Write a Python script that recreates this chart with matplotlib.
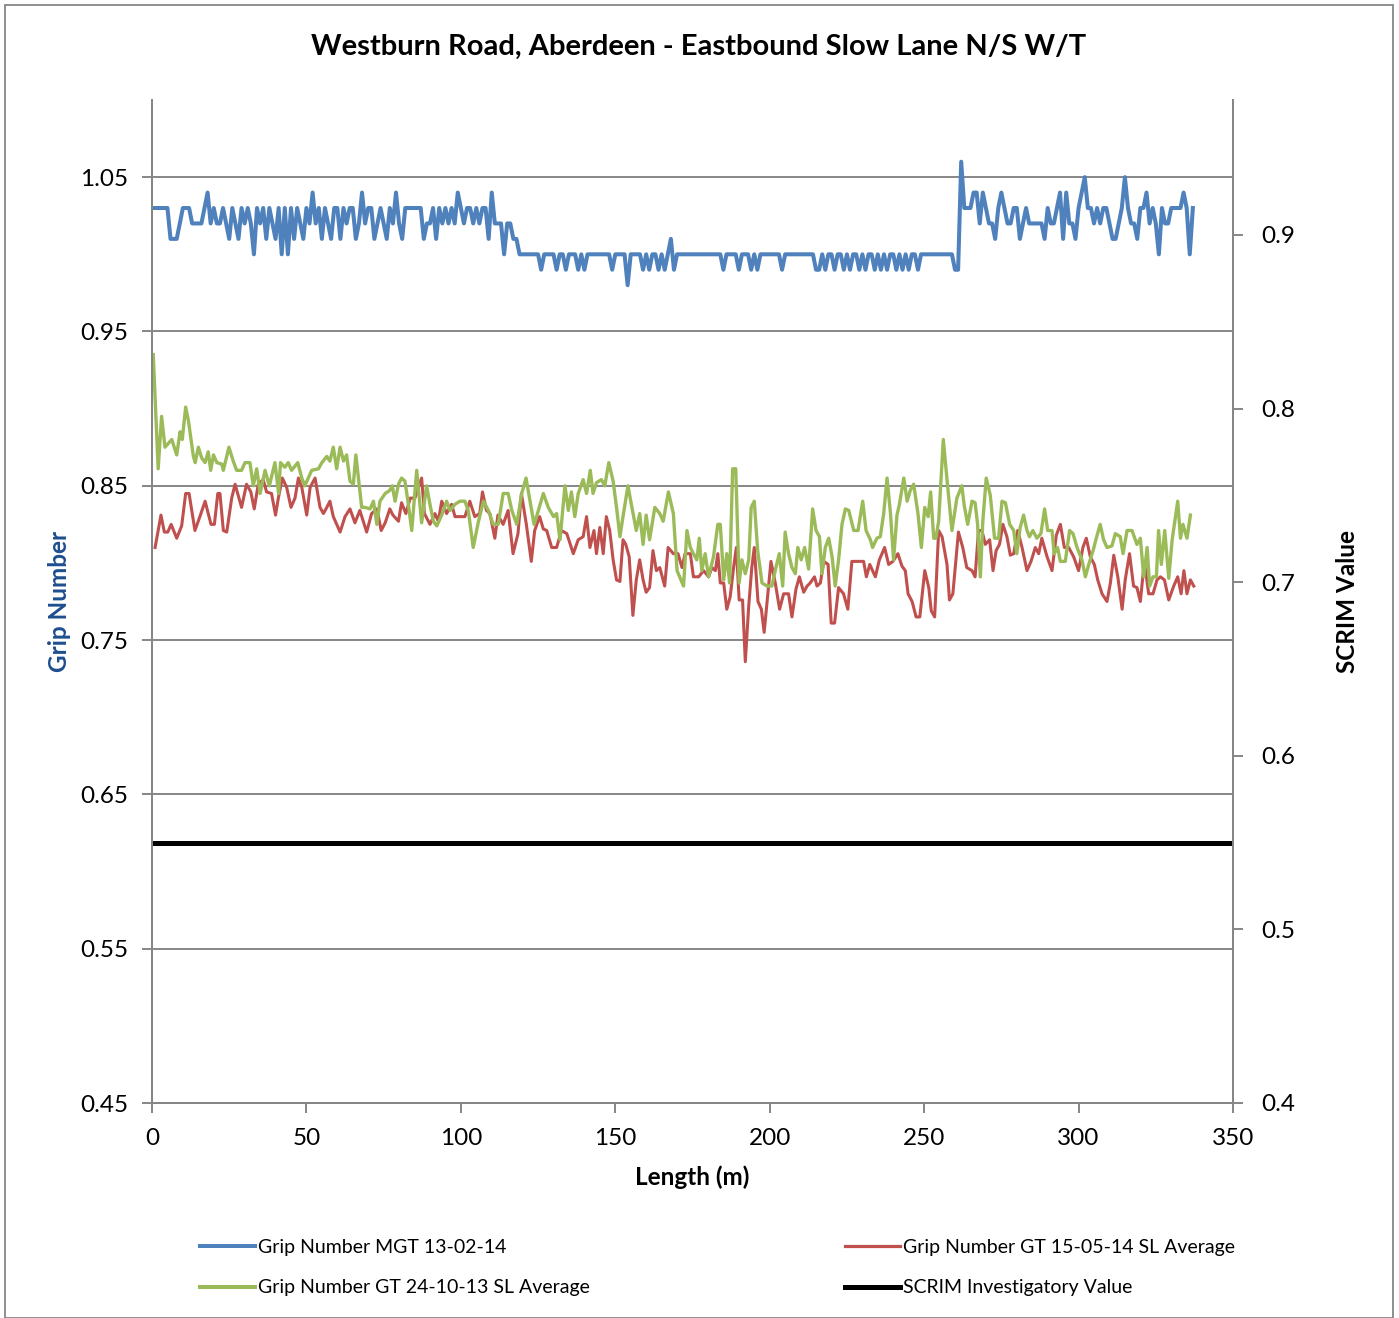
import matplotlib
matplotlib.use("Agg")
import matplotlib.pyplot as plt
from matplotlib.lines import Line2D
from matplotlib.patches import Rectangle

plt.rcParams['font.family'] = ['Lato', 'DejaVu Sans']

# ---------------- data ----------------
# Blue: Grip Number MGT 13-02-14, one value per metre (0..337)
mgt_values = [
    1.03, 1.03, 1.03, 1.03, 1.03, 1.03, 1.01, 1.01, 1.01, 1.02,
    1.03, 1.03, 1.03, 1.02, 1.02, 1.02, 1.02, 1.03, 1.04, 1.02,
    1.03, 1.02, 1.02, 1.03, 1.02, 1.01, 1.03, 1.02, 1.01, 1.03,
    1.02, 1.03, 1.02, 1.00, 1.03, 1.02, 1.03, 1.01, 1.03, 1.02,
    1.01, 1.03, 1.00, 1.03, 1.00, 1.03, 1.01, 1.03, 1.02, 1.01,
    1.03, 1.02, 1.04, 1.02, 1.03, 1.01, 1.03, 1.02, 1.01, 1.03,
    1.03, 1.01, 1.03, 1.02, 1.03, 1.03, 1.01, 1.02, 1.04, 1.02,
    1.03, 1.03, 1.01, 1.02, 1.03, 1.02, 1.01, 1.03, 1.02, 1.04,
    1.02, 1.01, 1.03, 1.03, 1.03, 1.03, 1.03, 1.03, 1.01, 1.02,
    1.02, 1.03, 1.01, 1.03, 1.02, 1.03, 1.02, 1.03, 1.02, 1.04,
    1.03, 1.02, 1.03, 1.03, 1.02, 1.03, 1.02, 1.03, 1.03, 1.01,
    1.04, 1.02, 1.02, 1.02, 1.00, 1.02, 1.02, 1.01, 1.01, 1.00,
    1.00, 1.00, 1.00, 1.00, 1.00, 1.00, 0.99, 1.00, 1.00, 1.00,
    1.00, 0.99, 1.00, 1.00, 0.99, 1.00, 1.00, 1.00, 0.99, 1.00,
    0.99, 1.00, 1.00, 1.00, 1.00, 1.00, 1.00, 1.00, 1.00, 0.99,
    1.00, 1.00, 1.00, 1.00, 0.98, 1.00, 1.00, 1.00, 1.00, 0.99,
    1.00, 0.99, 1.00, 1.00, 0.99, 1.00, 0.99, 1.00, 1.01, 0.99,
    1.00, 1.00, 1.00, 1.00, 1.00, 1.00, 1.00, 1.00, 1.00, 1.00,
    1.00, 1.00, 1.00, 1.00, 1.00, 0.99, 1.00, 1.00, 1.00, 1.00,
    0.99, 1.00, 1.00, 1.00, 0.99, 1.00, 0.99, 1.00, 1.00, 1.00,
    1.00, 1.00, 1.00, 1.00, 0.99, 1.00, 1.00, 1.00, 1.00, 1.00,
    1.00, 1.00, 1.00, 1.00, 1.00, 0.99, 0.99, 1.00, 0.99, 1.00,
    1.00, 0.99, 1.00, 1.00, 0.99, 1.00, 0.99, 1.00, 1.00, 0.99,
    1.00, 0.99, 1.00, 1.00, 0.99, 1.00, 0.99, 1.00, 0.99, 1.00,
    1.00, 0.99, 1.00, 0.99, 1.00, 0.99, 1.00, 1.00, 0.99, 1.00,
    1.00, 1.00, 1.00, 1.00, 1.00, 1.00, 1.00, 1.00, 1.00, 1.00,
    0.99, 0.99, 1.06, 1.03, 1.03, 1.03, 1.04, 1.04, 1.02, 1.04,
    1.03, 1.02, 1.02, 1.01, 1.03, 1.04, 1.03, 1.02, 1.02, 1.03,
    1.03, 1.01, 1.02, 1.03, 1.02, 1.02, 1.02, 1.02, 1.02, 1.01,
    1.03, 1.02, 1.02, 1.03, 1.04, 1.01, 1.04, 1.02, 1.02, 1.01,
    1.03, 1.04, 1.05, 1.03, 1.03, 1.02, 1.03, 1.02, 1.03, 1.03,
    1.02, 1.01, 1.01, 1.02, 1.03, 1.05, 1.03, 1.02, 1.02, 1.01,
    1.03, 1.03, 1.04, 1.02, 1.03, 1.02, 1.00, 1.03, 1.02, 1.02,
    1.03, 1.03, 1.03, 1.03, 1.04, 1.03, 1.00, 1.03,
]
mgt_length = list(range(len(mgt_values)))

# Red: Grip Number GT 15-05-14 SL Average
gt0514_length = [
    1.0, 2.9, 4.0, 5.1, 6.2, 8.0, 9.6, 10.9, 12.0, 13.9, 15.5, 17.2, 19.1, 20.2,
    21.3, 22.0, 23.1, 24.2, 25.8, 26.9, 29.0, 30.6, 32.0, 33.1, 34.4, 36.0, 37.1,
    38.7, 40.0, 40.9, 42.2, 43.6, 45.0, 46.3, 47.4, 48.5, 50.1, 51.2, 52.8, 54.4,
    55.5, 56.6, 57.6, 58.7, 60.9, 62.5, 64.1, 65.7, 67.3, 69.5, 71.1, 72.8, 74.2,
    75.5, 77.0, 78.0, 79.8, 80.8, 82.2, 83.6, 85.1, 87.3, 88.2, 90.0, 91.6, 92.7,
    93.8, 95.4, 97.0, 98.1, 99.7, 101.3, 102.9, 104.5, 106.1, 107.0, 108.3, 109.4,
    111.0, 112.0, 113.7, 115.3, 116.9, 118.5, 119.6, 121.2, 122.8, 123.9, 125.5,
    126.7, 127.8, 129.4, 131.0, 132.6, 134.3, 136.4, 138.0, 139.6, 140.7, 141.8,
    143.1, 143.9, 145.0, 146.1, 147.1, 148.2, 149.3, 150.4, 151.5, 152.5, 153.4,
    154.5, 155.7, 156.8, 157.9, 159.0, 160.0, 161.1, 162.2, 163.3, 164.4, 166.0,
    167.1, 168.8, 170.3, 171.6, 172.6, 174.3, 175.3, 177.0, 178.6, 180.2, 181.3,
    182.4, 183.2, 184.0, 185.1, 186.1, 187.2, 188.3, 189.2, 190.1, 191.2, 192.1,
    193.2, 194.2, 195.0, 196.2, 197.3, 198.2, 199.3, 200.4, 201.8, 203.2, 204.5,
    206.1, 207.2, 208.5, 209.6, 211.0, 212.1, 213.1, 214.5, 215.3, 216.4, 217.5,
    218.9, 219.9, 221.0, 222.3, 223.9, 225.3, 226.6, 228.8, 230.4, 231.3, 232.4,
    234.2, 235.5, 237.2, 238.5, 239.9, 241.5, 242.8, 243.9, 244.8, 246.1, 247.4,
    248.6, 250.2, 251.5, 252.3, 253.4, 254.7, 255.8, 257.4, 258.2, 259.3, 261.1,
    262.5, 263.8, 265.5, 266.5, 267.6, 268.7, 269.8, 271.2, 272.3, 273.3, 274.4,
    275.5, 276.8, 277.9, 279.0, 280.3, 281.7, 283.3, 284.6, 286.0, 287.1, 288.1,
    289.8, 291.4, 292.8, 294.1, 295.4, 296.8, 298.4, 300.0, 301.4, 302.5, 303.8,
    305.1, 306.2, 307.6, 309.2, 310.3, 311.4, 312.7, 314.1, 315.1, 316.5, 317.8,
    318.9, 320.0, 321.3, 322.7, 324.1, 325.4, 326.5, 327.8, 329.2, 330.8, 332.1,
    333.2, 334.1, 335.1, 336.2, 337.3,
]
gt0514_values = [
    0.810, 0.831, 0.820, 0.820, 0.825, 0.816, 0.824, 0.845, 0.845, 0.821, 0.830, 0.840, 0.825, 0.825,
    0.845, 0.845, 0.821, 0.820, 0.842, 0.851, 0.836, 0.851, 0.846, 0.835, 0.851, 0.854, 0.846,
    0.845, 0.831, 0.842, 0.855, 0.849, 0.836, 0.842, 0.855, 0.849, 0.831, 0.849, 0.855, 0.836,
    0.832, 0.836, 0.840, 0.830, 0.820, 0.830, 0.835, 0.826, 0.834, 0.820, 0.832, 0.835, 0.821,
    0.826, 0.835, 0.831, 0.827, 0.839, 0.832, 0.842, 0.842, 0.855, 0.832, 0.825, 0.832, 0.827,
    0.840, 0.832, 0.838, 0.830, 0.830, 0.830, 0.840, 0.830, 0.832, 0.846, 0.834, 0.832,
    0.816, 0.831, 0.825, 0.834, 0.806, 0.819, 0.845, 0.825, 0.801, 0.821, 0.830,
    0.822, 0.821, 0.810, 0.810, 0.821, 0.819, 0.806, 0.815, 0.817, 0.830, 0.810,
    0.821, 0.806, 0.823, 0.806, 0.830, 0.821, 0.802, 0.789, 0.788, 0.815, 0.812,
    0.804, 0.766, 0.789, 0.802, 0.789, 0.781, 0.784, 0.808, 0.795, 0.797, 0.785,
    0.810, 0.806, 0.806, 0.797, 0.806, 0.806, 0.791, 0.791, 0.795, 0.791, 0.797,
    0.795, 0.806, 0.787, 0.787, 0.770, 0.778, 0.797, 0.810, 0.776, 0.776, 0.736,
    0.772, 0.797, 0.810, 0.775, 0.770, 0.755, 0.778, 0.801, 0.787, 0.770, 0.780,
    0.780, 0.765, 0.783, 0.791, 0.781, 0.785, 0.787, 0.791, 0.785, 0.787, 0.801,
    0.799, 0.761, 0.761, 0.784, 0.780, 0.770, 0.801, 0.801, 0.801, 0.791, 0.799,
    0.791, 0.802, 0.810, 0.799, 0.801, 0.806, 0.798, 0.795, 0.780, 0.775, 0.765,
    0.765, 0.795, 0.784, 0.769, 0.765, 0.821, 0.817, 0.799, 0.776, 0.780, 0.820,
    0.810, 0.797, 0.795, 0.791, 0.821, 0.821, 0.812, 0.815, 0.795, 0.808, 0.812,
    0.825, 0.817, 0.805, 0.806, 0.821, 0.810, 0.795, 0.801, 0.810, 0.806, 0.816,
    0.804, 0.795, 0.818, 0.825, 0.810, 0.810, 0.804, 0.795, 0.810, 0.816, 0.804,
    0.799, 0.789, 0.780, 0.775, 0.787, 0.805, 0.791, 0.770, 0.789, 0.806, 0.785,
    0.784, 0.775, 0.801, 0.780, 0.780, 0.789, 0.791, 0.789, 0.776, 0.785, 0.791,
    0.780, 0.795, 0.780, 0.789, 0.785,
]

# Green: Grip Number GT 24-10-13 SL Average
gt1013_length = [
    0.4, 2.0, 3.1, 4.2, 6.4, 8.0, 9.1, 9.8, 10.9, 11.8, 13.4, 14.0, 15.0, 16.1,
    17.2, 18.2, 19.0, 19.9, 21.0, 22.6, 23.1, 24.9, 26.3, 27.4, 29.0, 30.1, 31.7,
    32.8, 33.9, 35.0, 36.6, 38.0, 39.8, 41.0, 41.6, 43.0, 44.1, 45.2, 47.2, 48.5,
    49.5, 50.6, 51.7, 53.9, 55.0, 56.6, 57.6, 58.7, 59.8, 60.9, 62.0, 63.0, 64.1,
    65.2, 66.0, 67.9, 69.0, 70.6, 71.7, 72.8, 73.8, 75.5, 77.0, 77.8, 78.7, 79.8,
    80.8, 81.9, 83.0, 84.1, 85.7, 87.3, 88.9, 90.0, 91.1, 92.2, 93.8, 95.4, 96.5,
    98.1, 99.7, 101.3, 102.4, 104.0, 105.6, 107.3, 108.9, 110.5, 112.1, 113.7,
    115.3, 116.5, 118.1, 119.7, 121.1, 122.4, 123.7, 125.1, 126.7, 128.3, 130.0,
    131.0, 132.1, 133.7, 134.8, 135.8, 136.9, 138.0, 139.6, 140.7, 141.9, 142.8,
    143.9, 145.5, 146.6, 147.9, 149.3, 150.4, 151.5, 152.5, 154.1, 155.2, 156.8,
    157.9, 159.0, 160.0, 161.1, 162.8, 164.4, 165.5, 167.2, 168.8, 170.0, 172.1,
    173.2, 174.3, 175.3, 176.4, 177.2, 178.0, 179.1, 180.2, 181.8, 183.2, 184.0,
    185.1, 186.1, 187.0, 188.0, 189.0, 190.1, 191.0, 192.1, 193.2, 194.0, 195.0,
    196.1, 197.5, 199.1, 200.7, 202.0, 203.1, 204.2, 205.0, 206.1, 207.2, 208.3,
    209.1, 210.2, 211.3, 212.6, 213.9, 215.0, 216.1, 216.9, 218.0, 219.1, 220.2,
    221.2, 222.3, 223.4, 224.5, 225.6, 227.2, 228.6, 230.1, 231.2, 232.6, 233.3,
    234.7, 235.8, 236.9, 238.0, 239.1, 240.1, 241.2, 242.0, 243.4, 244.5, 245.5,
    246.6, 248.0, 249.1, 250.2, 251.3, 252.1, 253.1, 253.8, 254.7, 256.2, 257.4,
    259.0, 260.6, 262.2, 263.0, 264.1, 265.5, 266.5, 267.3, 268.2, 269.0, 270.1,
    271.4, 272.8, 274.1, 275.2, 276.3, 277.7, 279.0, 280.0, 281.1, 282.2, 283.3,
    284.1, 285.2, 286.5, 287.8, 289.0, 290.0, 291.4, 292.1, 293.2, 294.1, 295.7,
    297.1, 298.2, 299.5, 301.1, 302.2, 303.3, 304.7, 306.0, 307.0, 308.1, 309.2,
    310.8, 311.9, 313.5, 314.4, 315.7, 317.3, 318.9, 320.0, 321.1, 322.2, 323.0,
    324.1, 325.2, 325.9, 326.8, 327.9, 329.2, 330.3, 332.1, 333.0, 333.8, 335.1,
    336.2,
]
gt1013_values = [
    0.935, 0.861, 0.895, 0.875, 0.880, 0.870, 0.885, 0.880, 0.901, 0.892, 0.869, 0.865, 0.875, 0.868,
    0.865, 0.872, 0.860, 0.870, 0.865, 0.864, 0.860, 0.875, 0.866, 0.860, 0.860, 0.865, 0.865,
    0.850, 0.861, 0.845, 0.860, 0.850, 0.865, 0.845, 0.865, 0.862, 0.865, 0.860, 0.865, 0.855,
    0.850, 0.855, 0.860, 0.861, 0.865, 0.869, 0.866, 0.875, 0.861, 0.875, 0.866, 0.870, 0.853,
    0.851, 0.870, 0.836, 0.836, 0.835, 0.840, 0.825, 0.840, 0.845, 0.847, 0.850, 0.840, 0.851,
    0.855, 0.853, 0.838, 0.821, 0.860, 0.826, 0.850, 0.838, 0.827, 0.824, 0.831, 0.840, 0.834,
    0.838, 0.840, 0.840, 0.834, 0.810, 0.826, 0.840, 0.834, 0.825, 0.825, 0.845,
    0.845, 0.834, 0.825, 0.845, 0.855, 0.840, 0.825, 0.834, 0.845, 0.836, 0.830,
    0.832, 0.815, 0.850, 0.834, 0.846, 0.830, 0.845, 0.854, 0.845, 0.860, 0.845,
    0.852, 0.854, 0.850, 0.865, 0.853, 0.836, 0.817, 0.830, 0.850, 0.838, 0.821,
    0.832, 0.812, 0.831, 0.815, 0.836, 0.832, 0.827, 0.846, 0.832, 0.795, 0.785,
    0.821, 0.810, 0.806, 0.802, 0.816, 0.795, 0.806, 0.791, 0.804, 0.825, 0.825,
    0.789, 0.806, 0.787, 0.861, 0.861, 0.787, 0.802, 0.793, 0.802, 0.836, 0.840,
    0.808, 0.787, 0.785, 0.785, 0.797, 0.806, 0.785, 0.820, 0.806, 0.797, 0.793,
    0.810, 0.802, 0.810, 0.796, 0.835, 0.821, 0.817, 0.793, 0.810, 0.816, 0.804,
    0.785, 0.802, 0.825, 0.835, 0.834, 0.821, 0.821, 0.840, 0.821, 0.815, 0.810,
    0.816, 0.817, 0.832, 0.855, 0.832, 0.802, 0.831, 0.838, 0.855, 0.840, 0.847,
    0.851, 0.832, 0.810, 0.836, 0.830, 0.846, 0.816, 0.816, 0.827, 0.880, 0.854,
    0.821, 0.842, 0.850, 0.837, 0.825, 0.840, 0.839, 0.825, 0.791, 0.827, 0.855,
    0.844, 0.816, 0.816, 0.840, 0.839, 0.825, 0.821, 0.806, 0.823, 0.831, 0.821,
    0.817, 0.821, 0.816, 0.819, 0.835, 0.821, 0.821, 0.806, 0.810, 0.801, 0.801,
    0.821, 0.819, 0.810, 0.802, 0.791, 0.799, 0.808, 0.818, 0.825, 0.815, 0.810,
    0.811, 0.819, 0.817, 0.806, 0.821, 0.821, 0.812, 0.816, 0.791, 0.810, 0.785,
    0.791, 0.791, 0.821, 0.799, 0.821, 0.790, 0.815, 0.840, 0.816, 0.825, 0.816,
    0.831,
]

# Black: SCRIM Investigatory Value (right axis)
scrim_length = [0, 350]
scrim_values = [0.55, 0.55]

left_ticks = [0.45, 0.55, 0.65, 0.75, 0.85, 0.95, 1.05]
right_ticks = [0.4, 0.5, 0.6, 0.7, 0.8, 0.9]
x_ticks = [0, 50, 100, 150, 200, 250, 300, 350]

series_labels = [
    "Grip Number MGT 13-02-14",
    "Grip Number GT 15-05-14 SL Average",
    "Grip Number GT 24-10-13 SL Average",
    "SCRIM Investigatory Value",
]

# ---------------- figure ----------------
W, H = 1399, 1318
fig = plt.figure(figsize=(W / 100, H / 100), dpi=100)
fig.patch.set_facecolor("white")
fig.patches.append(Rectangle((5 / W, 0), (1393 - 5) / W, 1 - 5 / H,
                             transform=fig.transFigure, fill=False,
                             edgecolor="#868686", linewidth=1.3))

ax = fig.add_axes([152 / W, 1 - 1103 / H, (1233 - 152) / W, (1103 - 100) / H])
ax2 = ax.twinx()

blue, red, green = "#4F81BD", "#C0504D", "#9BBB59"
grid_c = "#868686"

ax.plot(mgt_length, mgt_values, color=blue, lw=2.9, solid_joinstyle="round", zorder=3)
ax.plot(gt1013_length, gt1013_values, color=green, lw=2.4, solid_joinstyle="round", zorder=3)
ax.plot(gt0514_length, gt0514_values, color=red, lw=2.2, solid_joinstyle="round", zorder=2)
ax2.plot(scrim_length, scrim_values, color="black", lw=3.6, solid_capstyle="butt", clip_on=False)

ax.set_xlim(0, 350)
ax.set_ylim(0.45, 1.10)
ax2.set_ylim(0.4, 0.9777)
ax.set_xticks(x_ticks)
ax.set_xticklabels([str(v) for v in x_ticks])
ax.set_yticks(left_ticks)
ax.set_yticklabels([f"{v:.2f}" for v in left_ticks])
ax2.set_yticks(right_ticks)
ax2.set_yticklabels([f"{v:.1f}" for v in right_ticks])

ax.yaxis.grid(True, color=grid_c, lw=1.4)
ax.set_axisbelow(True)

for a in (ax, ax2):
    for s in a.spines.values():
        s.set_color(grid_c)
        s.set_linewidth(1.4)
    a.spines["top"].set_visible(False)
    a.tick_params(colors=grid_c, labelcolor="black", labelsize=17.5, width=1.4, length=7)
ax.tick_params(axis="x", pad=11)
ax.tick_params(axis="y", pad=10)
ax2.tick_params(axis="y", pad=13)

ax.set_ylabel("Grip Number", fontsize=17.5, fontweight="bold", color="#1F4E8F", labelpad=7)
ax2.set_ylabel("SCRIM Value", fontsize=17.5, fontweight="bold", color="black", labelpad=30)
ax.set_xlabel("Length (m)", fontsize=17.5, fontweight="bold", labelpad=12)

fig.text(699 / W, 1 - 47 / H, "Westburn Road, Aberdeen - Eastbound Slow Lane N/S W/T",
         ha="center", va="center", fontsize=21, fontweight="bold")

# legend
h_blue = Line2D([], [], color=blue, lw=2.9)
h_red = Line2D([], [], color=red, lw=2.3)
h_green = Line2D([], [], color=green, lw=2.9)
h_black = Line2D([], [], color="black", lw=3.6)
leg_kw = dict(frameon=False, fontsize=14, handlelength=2.85, handletextpad=0.15,
              labelspacing=1.2, borderpad=0, borderaxespad=0, loc="upper left")
l1 = fig.legend([h_blue, h_green], [series_labels[0], series_labels[2]],
                bbox_to_anchor=(200 / W, 1 - 1239 / H), **leg_kw)
l2 = fig.legend([h_red, h_black], [series_labels[1], series_labels[3]],
                bbox_to_anchor=(845 / W, 1 - 1239 / H), **leg_kw)

fig.savefig("out.png", dpi=100, facecolor="white")
